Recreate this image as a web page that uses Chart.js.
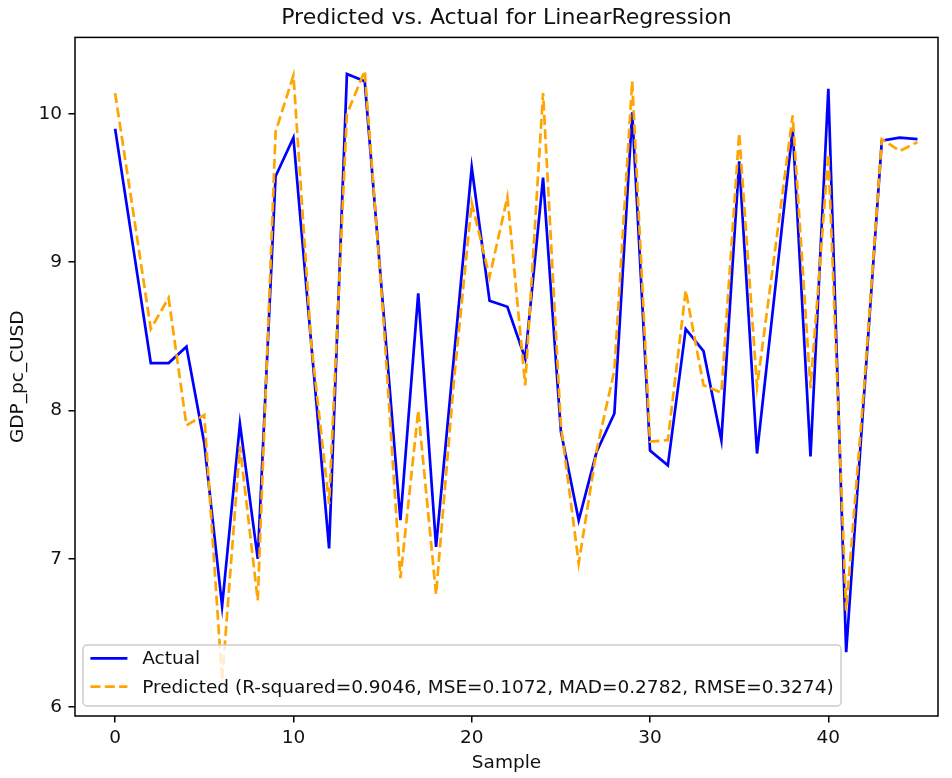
<!DOCTYPE html>
<html>
<head>
<meta charset="utf-8">
<title>Predicted vs. Actual for LinearRegression</title>
<script src="https://cdn.jsdelivr.net/npm/chart.js@4.4.0/dist/chart.umd.min.js"></script>
<style>
  html, body { margin: 0; padding: 0; background: #fff; }
  #fitChart { display: block; }
</style>
</head>
<body>
<canvas id="fitChart" width="952" height="778"></canvas>
<script>
let samples = [
  0, 1, 2, 3, 4, 5, 6, 7, 8, 9, 10, 11, 12, 13, 14, 15, 16, 17, 18, 19, 20, 21, 22,
  23, 24, 25, 26, 27, 28, 29, 30, 31, 32, 33, 34, 35, 36, 37, 38, 39, 40, 41, 42, 43, 44, 45,
];

let actual = [
  9.9, 9.11, 8.32, 8.32, 8.43, 7.78, 6.68, 7.91, 7.0, 9.58, 9.84, 8.45, 7.07, 10.27, 10.22, 8.74,
  7.26, 8.79, 7.08, 8.36, 9.64, 8.74, 8.7, 8.35, 9.57, 7.86, 7.26, 7.72, 7.98, 10.01, 7.73, 7.63,
  8.55, 8.4, 7.8, 9.68, 7.71, 8.8, 9.9, 7.69, 10.17, 6.37, 8.1, 9.82, 9.84, 9.83,
];

let predicted = [
  10.14, 9.35, 8.55, 8.76, 7.9, 7.97, 6.18, 7.76, 6.72, 9.88, 10.26, 8.45, 7.37, 10.0, 10.29, 8.7,
  6.87, 8.0, 6.76, 8.2, 9.4, 8.9, 9.44, 8.17, 10.14, 7.9, 6.97, 7.73, 8.27, 10.22, 7.79, 7.8,
  8.81, 8.17, 8.12, 9.87, 8.16, 9.07, 9.99, 8.15, 9.73, 6.65, 8.15, 9.83, 9.75, 9.81,
];

let metrics = { 'R-squared': '0.9046', MSE: '0.1072', MAD: '0.2782', RMSE: '0.3274' };

let xTicks = [0, 10, 20, 30, 40];
let yTicks = [6, 7, 8, 9, 10];

let fontFamily = "'DejaVu Sans', 'Noto Sans', sans-serif";
let textColor = '#111';

let toPoints = (values) => samples.map((s, i) => ({ x: s, y: values[i] }));

let predictedLabel =
  'Predicted (' +
  Object.keys(metrics)
    .map((k) => `${k}=${metrics[k]}`)
    .join(', ') +
  ')';

// full box around the plot, like the axes spines
let frame = {
  id: 'frame',
  afterDatasetsDraw(chart) {
    let { ctx, chartArea } = chart;
    ctx.save();
    ctx.strokeStyle = '#000';
    ctx.lineWidth = 1.5;
    ctx.strokeRect(
      chartArea.left,
      chartArea.top,
      chartArea.right - chartArea.left,
      chartArea.bottom - chartArea.top
    );
    ctx.restore();
  },
};

// legend drawn inside the plot, lower left, over the lines
let legendBox = {
  id: 'legendBox',
  afterDatasetsDraw(chart) {
    let { ctx, chartArea } = chart;
    let fontSize = 18.5;
    let items = chart.data.datasets;

    ctx.save();
    ctx.font = `${fontSize}px ${fontFamily}`;

    let textWidth = Math.max(...items.map((d) => ctx.measureText(d.label).width));
    let pad = 0.4 * fontSize;
    let handle = 2 * fontSize;
    let gap = 0.8 * fontSize;
    let rowGap = 28.4;
    let w = pad + handle + gap + textWidth + pad;
    let h = 61;
    let x = chartArea.left + 8;
    let y = chartArea.bottom - 10 - h;

    ctx.beginPath();
    if (ctx.roundRect) ctx.roundRect(x, y, w, h, 4);
    else ctx.rect(x, y, w, h);
    ctx.fillStyle = 'rgba(255, 255, 255, 0.8)';
    ctx.fill();
    ctx.strokeStyle = '#cccccc';
    ctx.lineWidth = 1.5;
    ctx.stroke();

    items.forEach((d, i) => {
      let rowY = y + 13.3 + i * rowGap;
      ctx.beginPath();
      ctx.setLineDash(d.borderDash || []);
      ctx.strokeStyle = d.borderColor;
      ctx.lineWidth = d.borderWidth;
      ctx.moveTo(x + pad, rowY);
      ctx.lineTo(x + pad + handle, rowY);
      ctx.stroke();
      ctx.setLineDash([]);

      ctx.fillStyle = textColor;
      ctx.textBaseline = 'middle';
      ctx.textAlign = 'left';
      ctx.fillText(d.label, x + pad + handle + gap, rowY + 1);
    });

    ctx.restore();
  },
};

let ctx = document.getElementById('fitChart').getContext('2d');

new Chart(ctx, {
  type: 'line',
  data: {
    datasets: [
      {
        label: 'Actual',
        data: toPoints(actual),
        borderColor: 'blue',
        borderWidth: 2.7,
        pointRadius: 0,
        fill: false,
        tension: 0,
        order: 2,
      },
      {
        label: predictedLabel,
        data: toPoints(predicted),
        borderColor: 'orange',
        borderWidth: 2.7,
        borderDash: [10, 4.4],
        pointRadius: 0,
        fill: false,
        tension: 0,
        order: 1,
      },
    ],
  },
  options: {
    responsive: false,
    animation: false,
    events: [],
    layout: {
      padding: { top: 0, right: 14, bottom: 0, left: 0 },
    },
    plugins: {
      legend: { display: false },
      tooltip: { enabled: false },
      title: {
        display: true,
        fullSize: false,
        text: 'Predicted vs. Actual for LinearRegression',
        color: textColor,
        font: { family: fontFamily, size: 22, weight: 'normal' },
        padding: { top: 5, bottom: 6 },
      },
    },
    scales: {
      x: {
        type: 'linear',
        min: -2.25,
        max: 46.15,
        afterBuildTicks: (scale) => {
          scale.ticks = xTicks.map((v) => ({ value: v }));
        },
        afterFit: (scale) => {
          scale.height = 62;
        },
        grid: {
          drawOnChartArea: false,
          drawTicks: true,
          tickLength: 6.5,
          color: '#000',
          lineWidth: 1.5,
        },
        border: { display: false },
        ticks: {
          color: textColor,
          padding: 5,
          maxRotation: 0,
          font: { family: fontFamily, size: 18.5 },
        },
        title: {
          display: true,
          text: 'Sample',
          color: textColor,
          font: { family: fontFamily, size: 18.5 },
          padding: { top: 0, bottom: 4 },
        },
      },
      y: {
        type: 'linear',
        min: 5.94,
        max: 10.516,
        afterBuildTicks: (scale) => {
          scale.ticks = yTicks.map((v) => ({ value: v }));
        },
        afterFit: (scale) => {
          scale.width = 75;
        },
        grid: {
          drawOnChartArea: false,
          drawTicks: true,
          tickLength: 6.5,
          color: '#000',
          lineWidth: 1.5,
        },
        border: { display: false },
        ticks: {
          color: textColor,
          padding: 6.5,
          font: { family: fontFamily, size: 18.5 },
        },
        title: {
          display: true,
          text: 'GDP_pc_CUSD',
          color: textColor,
          font: { family: fontFamily, size: 18.5 },
          padding: { top: 7, bottom: 0 },
        },
      },
    },
  },
  plugins: [frame, legendBox],
});
</script>
</body>
</html>
